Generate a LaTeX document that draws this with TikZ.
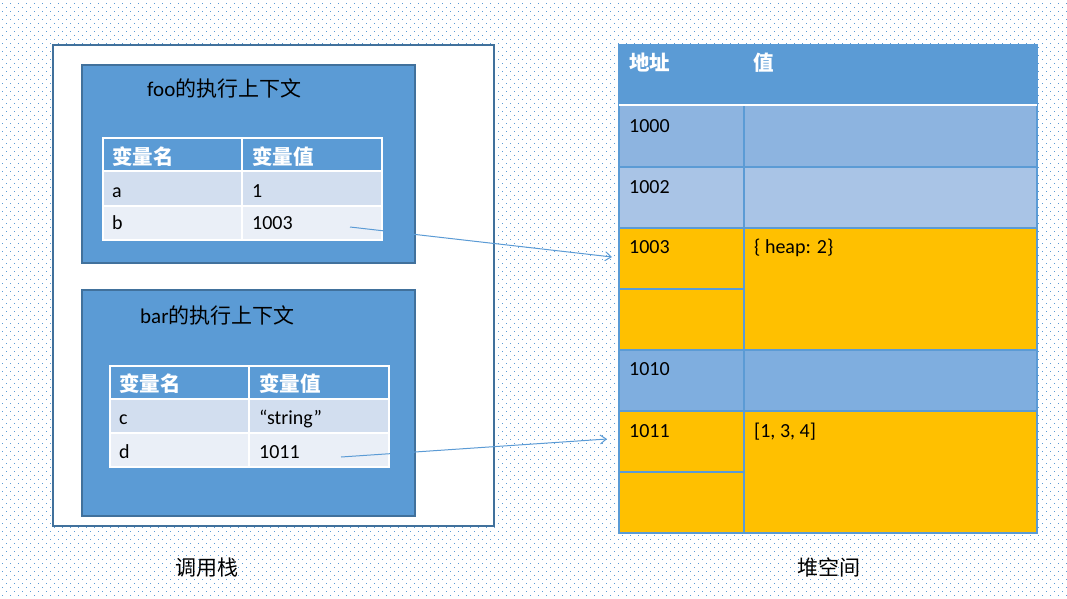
\documentclass[tikz,border=0pt]{standalone}
\usepackage{fontspec}
\setmainfont{Carlito}
\newfontfamily\cjk{Noto Sans CJK SC}
\usetikzlibrary{arrows.meta}
\definecolor{acc}{HTML}{5B9BD5}
\definecolor{edge}{HTML}{41719C}
\definecolor{rowA}{HTML}{D2DEEF}
\definecolor{rowB}{HTML}{EAEFF7}
\definecolor{memA}{HTML}{8DB4E0}
\definecolor{memB}{HTML}{A9C4E6}
\definecolor{memC}{HTML}{7FAEDF}
\definecolor{used}{HTML}{FFC000}
\tikzset{
  dotrow/.style={draw=acc, line width=1.3pt, dash pattern=on 1.3pt off 6.7pt},
  frame/.style={draw=edge, line width=1.6pt, inner sep=0, outer sep=0},
  cell/.style={inner sep=0, outer sep=0},
  txt/.style={font=\fontsize{20}{24}\selectfont, anchor=base west, inner sep=0},
  head/.style={txt, text=white, font=\fontsize{20.5}{24}\selectfont\cjk\bfseries},
  title/.style={txt, font=\fontsize{21}{25}\selectfont},
  wline/.style={draw=white, line width=1.2pt},
  bline/.style={draw=acc, line width=1.2pt},
  ptr/.style={draw=acc, line width=1pt, -{Straight Barb[length=6pt,width=9pt]}}
}
\begin{document}
\begin{tikzpicture}[x=1pt,y=-1pt]
\useasboundingbox (0,0) rectangle (1067,599);
\fill[white] (0,0) rectangle (1067,599);
% dotted paper
\foreach \k in {0,...,149}{
  \pgfmathsetmacro\yy{3.3+4*\k}
  \pgfmathsetmacro\xx{2+4*mod(\k,2)}
  \draw[dotrow] (\xx,\yy) -- (1067,\yy);
}

% ---------- call stack ----------
\path[frame, fill=white] (53,45) rectangle (494,526);
\node[cell] (stack) at (273.5,285.5) {};

% foo context
\path[frame, fill=acc] (82,65) rectangle (415,263);
\node[title] (footitle) at (147,97) {foo{\cjk 的执行上下文}};
\fill[acc]  (103,138) rectangle (382,171);
\fill[rowA] (103,171) rectangle (382,206);
\fill[rowB] (103,206) rectangle (382,240);
\draw[wline] (103,138) rectangle (382,240);
\draw[wline] (242,138) -- (242,240);
\draw[wline] (103,206) -- (382,206);
\draw[draw=white, line width=2.6pt] (103,171) -- (382,171);
\node[head] (fooh1) at (112,164) {变量名};
\node[head] (fooh2) at (252,164) {变量值};
\node[txt] (va) at (112,197) {a};
\node[txt] (vava) at (252,197) {1};
\node[txt] (vb) at (112,229) {b};
\node[txt] (vbval) at (252,229) {1003};
\coordinate (bref) at (350,227);

% bar context
\path[frame, fill=acc] (82,290) rectangle (415,516);
\node[title] (bartitle) at (140,323) {bar{\cjk 的执行上下文}};
\fill[acc]  (110,366) rectangle (389,399);
\fill[rowA] (110,399) rectangle (389,433);
\fill[rowB] (110,433) rectangle (389,467);
\draw[wline] (110,366) rectangle (389,467);
\draw[wline] (249,366) -- (249,467);
\draw[wline] (110,433) -- (389,433);
\draw[draw=white, line width=2.6pt] (110,399) -- (389,399);
\node[head] (barh1) at (119,391) {变量名};
\node[head] (barh2) at (259,391) {变量值};
\node[txt] (vc) at (119,424) {c};
\node[txt] (vcval) at (259,424) {“string”};
\node[txt] (vd) at (119,458) {d};
\node[txt] (vdval) at (259,458) {1011};
\coordinate (dref) at (341,457);

\node[title] (stacklabel) at (175,575) {\cjk 调用栈};

% ---------- heap ----------
\fill[acc]  (619,45)  rectangle (1037,105);
\fill[memA] (619,105) rectangle (1037,167);
\fill[memB] (619,167) rectangle (1037,228);
\fill[used] (619,228) rectangle (1037,350);
\fill[memC] (619,350) rectangle (1037,411);
\fill[used] (619,411) rectangle (1037,533);
\draw[bline] (619,45) rectangle (1037,533);
\draw[bline] (744,105) -- (744,533);
\foreach \yy in {167,228,350,411}{ \draw[bline] (619,\yy) -- (1037,\yy); }
\draw[bline] (619,289) -- (744,289);
\draw[bline] (619,472) -- (744,472);
\draw[draw=white, line width=1.6pt] (619,105) -- (1037,105);
\node[head] (addrh) at (629,71) {地址};
\node[head] (valh) at (753,71) {值};
\node[txt] (m1000) at (629,132) {1000};
\node[txt] (m1002) at (629,193) {1002};
\node[txt] (m1003) at (629,253) {1003};
\node[txt] (obj) at (754,253) {\{ heap: 2\}};
\node[txt] (m1010) at (629,375) {1010};
\node[txt] (m1011) at (629,437) {1011};
\node[txt] (arr) at (754,437) {[1, 3, 4]};
\coordinate (h1003) at (612,257);
\coordinate (h1011) at (607,439);

\node[title] (heaplabel) at (797,575) {\cjk 堆空间};

% references from the stack into the heap
\draw[ptr] (bref) -- (h1003);
\draw[ptr] (dref) -- (h1011);
\end{tikzpicture}
\end{document}
